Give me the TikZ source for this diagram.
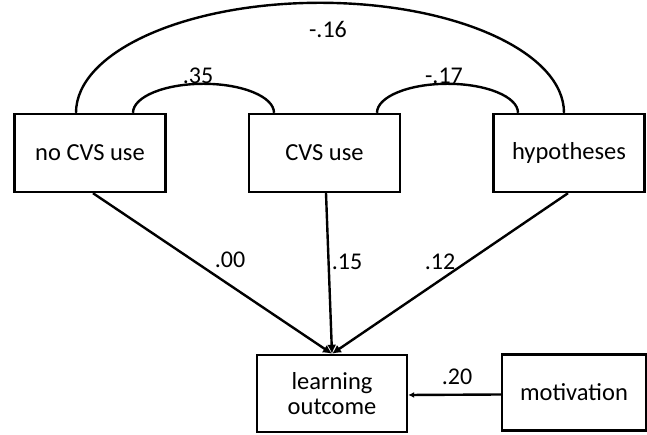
\documentclass[tikz,border=0pt]{standalone}
\usepackage{fontspec}
\setmainfont{Carlito}
\usetikzlibrary{arrows.meta}
\begin{document}
\begin{tikzpicture}[x=1pt,y=1pt,
  box/.style={draw,line width=2.4pt,minimum width=151pt,minimum height=78pt,inner sep=0pt,align=center,font=\fontsize{24.5}{26}\selectfont},
  conn/.style={line width=2.4pt},
  lbl/.style={font=\fontsize{24}{26}\selectfont,inner sep=0pt},
  tip/.style={-{Latex[length=9pt,width=9pt]}}]
\useasboundingbox (0,0) rectangle (647,435);
\node[box] (noCVS) at (90,282) {no CVS use};
\node[box] (CVS) at (324.5,282) {CVS use};
\node[box] (hyp) at (569,282) {hypotheses};
\node[box,minimum width=150pt,minimum height=77pt] (LO) at (332,41.5) {learning\\[-1pt]outcome};
\node[box,minimum width=144pt,minimum height=76pt] (mot) at (574,42.5) {motivation};
% correlation arcs
\draw[conn] ([xshift=-14pt]noCVS.north) arc[start angle=180,end angle=0,x radius=244pt,y radius=110pt];
\draw[conn] ([xshift=43pt]noCVS.north) arc[start angle=180,end angle=0,x radius=70.5pt,y radius=29pt];
\draw[conn] ([xshift=52.5pt]CVS.north) arc[start angle=180,end angle=0,x radius=70.5pt,y radius=29pt];
% paths
\draw[conn,tip] ([xshift=3pt]noCVS.south) -- (LO.north);
\draw[conn,tip] ([xshift=1.5pt]CVS.south) -- (LO.north);
\draw[conn,tip] ([xshift=-1pt]hyp.south) -- (LO.north);
\draw[conn,-{Latex[length=6pt,width=6pt]}] ([yshift=-2pt]mot.west) -- ([yshift=-1.5pt]LO.east);
% labels
\node[lbl] (l16) at (328,406) {-.16};
\node[lbl] (l35) at (198,359) {.35};
\node[lbl] (l17) at (444,359) {-.17};
\node[lbl] (l00) at (230,175) {.00};
\node[lbl] (l15) at (347,173) {.15};
\node[lbl] (l12) at (440,173) {.12};
\node[lbl] (l20) at (457,58) {.20};
\end{tikzpicture}
\end{document}
